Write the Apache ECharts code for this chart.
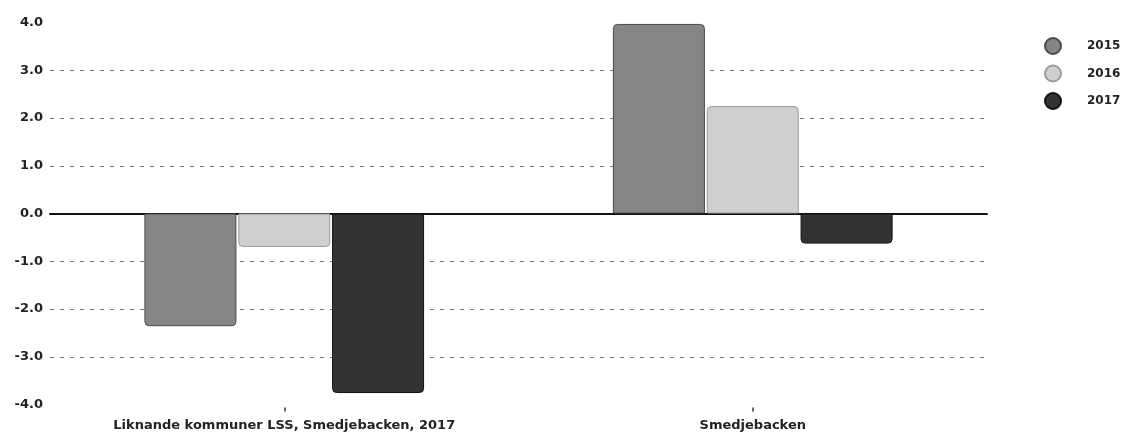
<!DOCTYPE html>
<html>
<head>
<meta charset="utf-8">
<script src="https://cdn.jsdelivr.net/npm/echarts@6/dist/echarts.min.js"></script>
<style>
html,body{margin:0;padding:0;background:#fff;}
#c{width:1140px;height:440px;}
</style>
</head>
<body>
<div id="c"></div>
<script>
const categories = ['Liknande kommuner LSS, Smedjebacken, 2017', 'Smedjebacken'];
const years = ['2015', '2016', '2017'];
const values2015 = [-2.36, 3.97];
const values2016 = [-0.70, 2.25];
const values2017 = [-3.76, -0.63];
const yTicks = [-4, -3, -2, -1, 0, 1, 2, 3, 4];

const fills = ['#858585', '#cfcfcf', '#333333'];
const borders = ['#4a4a4a', '#9a9a9a', '#111111'];
const font = '"DejaVu Sans", Verdana, sans-serif';

function barSeries(name, data, i) {
  return {
    name: name,
    type: 'bar',
    data: data.map(v => ({
      value: v,
      itemStyle: { borderRadius: v >= 0 ? [4, 4, 0, 0] : [0, 0, 4, 4] }
    })),
    barWidth: 92,
    barGap: '2%',
    itemStyle: { color: fills[i], borderColor: borders[i], borderWidth: 1 },
    emphasis: { disabled: true },
    animation: false
  };
}

const chart = echarts.init(document.getElementById('c'), null, { renderer: 'canvas' });
chart.setOption({
  animation: false,
  grid: { left: 50, right: 153, top: 22.5, bottom: 35.5 },
  legend: {
    data: years,
    orient: 'vertical',
    left: 1039,
    top: 32,
    icon: 'circle',
    itemWidth: 16,
    itemHeight: 16,
    itemGap: 9.5,
    textStyle: { fontFamily: font, fontWeight: 'bold', fontSize: 12, color: '#222', padding: [0, 0, 0, 21] }
  },
  xAxis: [
    {
      type: 'category',
      data: categories,
      axisLine: { show: true, onZero: true, lineStyle: { color: '#111', width: 2 } },
      axisTick: { show: false },
      axisLabel: { show: false },
      splitLine: { show: false }
    },
    {
      type: 'category',
      data: categories,
      position: 'bottom',
      offset: 3,
      axisLine: { show: false, onZero: false },
      axisTick: { show: true, alignWithLabel: true, length: 4, lineStyle: { color: '#333', width: 1.5 } },
      axisLabel: { show: true, margin: 12, fontFamily: font, fontWeight: 'bold', fontSize: 13, color: '#222' },
      splitLine: { show: false }
    }
  ],
  yAxis: {
    type: 'value',
    min: yTicks[0],
    max: yTicks[yTicks.length - 1],
    interval: 1,
    axisLine: { show: false },
    axisTick: { show: false },
    axisLabel: {
      margin: 7,
      fontFamily: font, fontWeight: 'bold', fontSize: 13, color: '#222',
      formatter: v => v.toFixed(1)
    },
    splitLine: {
      show: true,
      showMinLine: false,
      showMaxLine: false,
      lineStyle: { color: '#7a7a7a', type: [4, 6], width: 1 }
    }
  },
  series: [
    barSeries(years[0], values2015, 0),
    barSeries(years[1], values2016, 1),
    barSeries(years[2], values2017, 2)
  ]
});
</script>
</body>
</html>
